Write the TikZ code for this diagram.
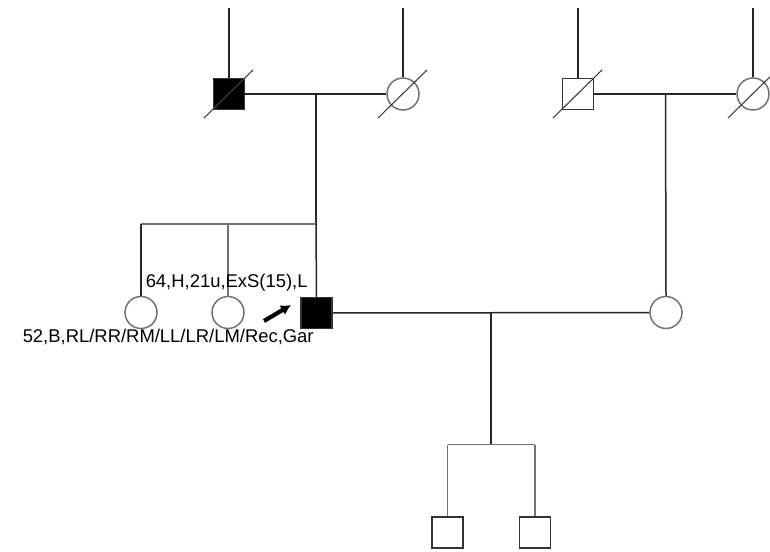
\documentclass[tikz,border=0pt]{standalone}
\usepackage{fontspec}
\setmainfont{Liberation Sans}
\usetikzlibrary{arrows.meta}

\begin{document}
\begin{tikzpicture}[x=1bp, y=-1bp, line width=1.5bp,
  male/.style={draw=black!80, rectangle, minimum size=31bp, inner sep=0pt},
  female/.style={draw=black!55, circle, minimum size=32bp, inner sep=0pt},
  affected/.style={fill=black},
  line/.style={black!85},
  sibline/.style={black!55},
  info/.style={anchor=base west, inner sep=0pt, font=\fontsize{18.5}{22}\selectfont}]
  \useasboundingbox (0,0) rectangle (770,552);

  % grandparents, father's side and mother's side
  \node[male, affected] (gf1) at (229,94) {};
  \node[female] (gm1) at (403,94) {};
  \node[male] (gf2) at (578,94) {};
  \node[female] (gm2) at (753,94) {};

  % generation II
  \node[female] (sis1) at (141,312.5) {};
  \node[female] (sis2) at (228,312.5) {};
  \node[male, affected] (pro) at (316.5,313) {};
  \node[female] (wife) at (666,312.5) {};

  % generation III
  \node[male] (son1) at (447.5,532.5) {};
  \node[male] (son2) at (535,532.5) {};

  % lines up to the unknown parents
  \foreach \p in {gf1,gm1,gf2,gm2}
    \draw[line] (\p.north) -- (\p.north |- 0,8);

  % deceased
  \foreach \p in {gf1,gm1,gf2,gm2}
    \draw[black!75, line width=1.1bp] ([shift={(-25,24)}]\p.center) -- ([shift={(24,-24)}]\p.center);

  % matings
  \draw[line] (gf1) -- (gm1);
  \draw[line] (gf2) -- (gm2);
  \draw[line] (pro) -- (wife);

  \coordinate (m1) at (316,94);
  \coordinate (m2) at (665.5,94);
  \coordinate (m3) at (491,313);
  \coordinate (sib1) at (316,224);
  \coordinate (sib3) at (491,444.5);

  % descent
  \draw[line] (m1) -- (sib1);
  \draw[sibline] (sib1) -- (sib1 -| sis1);
  \draw[line] (sis1.north |- sib1) -- (sis1.north);
  \draw[sibline] (sis2.north |- sib1) -- (sis2.north);
  \draw[line] (sib1) -- (pro.north);
  \draw[line] (m2) -- (wife.north);
  \draw[line] (m3) -- (sib3);
  \draw[sibline] (sib3 -| son1) -- (sib3 -| son2);
  \draw[sibline] (sib3 -| son1) -- (son1.north);
  \draw[sibline] (sib3 -| son2) -- (son2.north);

  % proband arrow
  \coordinate (arrtail) at (264,321);
  \coordinate (arrhead) at (291,305);
  \draw[line width=4.2bp, -{Latex[length=10bp, width=11bp]}] (arrtail) -- (arrhead);

  \node[info] (lab1) at (145,288) {64,H,21u,ExS(15),L};
  \node[info] (lab2) at (22,342) {52,B,RL/RR/RM/LL/LR/LM/Rec,Gar};
\end{tikzpicture}
\end{document}
